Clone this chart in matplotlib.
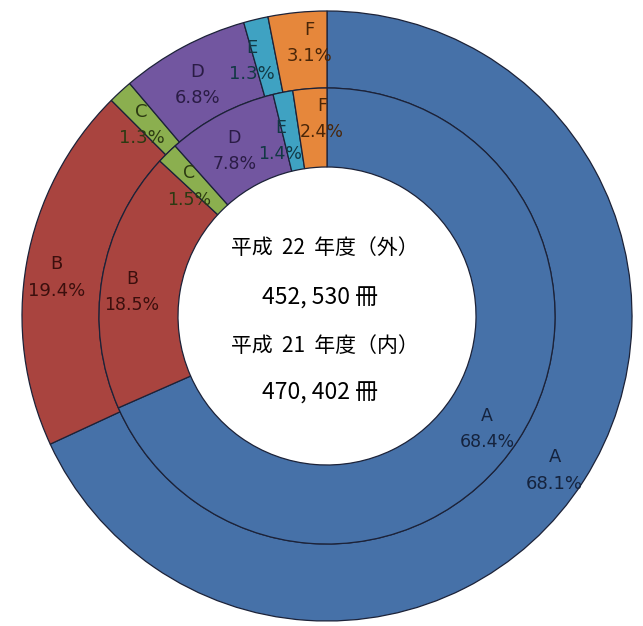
import numpy as np
import matplotlib
matplotlib.use('Agg')
import matplotlib.pyplot as plt

# 外側: 平成22年度, 内側: 平成21年度
categories = ['A', 'B', 'C', 'D', 'E', 'F']
outer_pct = [68.1, 19.4, 1.3, 6.8, 1.3, 3.1]
inner_pct = [68.4, 18.5, 1.5, 7.8, 1.4, 2.4]

colors = ['#4671A8', '#A9443F', '#8BAF4F', '#7256A0', '#3FA2C2', '#E6873B']
text_colors = ['#15233d', '#3b0f0d', '#2c3a12', '#2a1c45', '#123844', '#4a2608']

center_lines = ['平成  22  年度（外）', '452, 530 冊', '平成  21  年度（内）', '470, 402 冊']

# ラベルの微調整 (px, 画像座標: 右+, 下+)
outer_nudge = [(3, 11), (-8, 8), (-5, 5), (-4, 4), (-13, 4), (8, -8)]
inner_nudge = [(2, 10), (-9, 7), (-6, 5), (-5, 2), (-10, 10), (9, -9)]

W, H = 643, 626
cx, cy = 327, H - 316
r_out, r_mid, r_in = 305, 228, 149

fig = plt.figure(figsize=(W / 100, H / 100), dpi=100)
ax = fig.add_axes([0, 0, 1, 1])

edge = dict(edgecolor='#1c2238', linewidth=0.9)

w_out, _ = ax.pie(outer_pct, radius=r_out, center=(cx, cy), colors=colors,
                  startangle=90, counterclock=False,
                  wedgeprops=dict(width=r_out - r_mid, **edge))
w_in, _ = ax.pie(inner_pct, radius=r_mid, center=(cx, cy), colors=colors,
                 startangle=90, counterclock=False,
                 wedgeprops=dict(width=r_mid - r_in, **edge))
ax.set_xlim(0, W)
ax.set_ylim(0, H)
ax.set_aspect('equal')
ax.axis('off')


def put_labels(wedges, pcts, r_text, nudges, size=13):
    for w, cat, p, tc, (dx, dy) in zip(wedges, categories, pcts, text_colors, nudges):
        ang = np.deg2rad((w.theta1 + w.theta2) / 2)
        x = cx + r_text * np.cos(ang) + dx
        y = cy + r_text * np.sin(ang) - dy
        ax.text(x, y, f'{cat}\n{p:.1f}%', ha='center', va='center',
                fontsize=size, color=tc, linespacing=1.6, family='DejaVu Sans')


put_labels(w_out, outer_pct, (r_out + r_mid) / 2, outer_nudge)
put_labels(w_in, inner_pct, (r_mid + r_in) / 2, inner_nudge, size=12.5)

jp = ['Noto Sans CJK JP', 'DejaVu Sans']
ax.text(325, H - 248, center_lines[0], ha='center', va='center', fontsize=15, family=jp)
ax.text(320, H - 298, center_lines[1], ha='center', va='center', fontsize=16.5, family=jp)
ax.text(325, H - 346, center_lines[2], ha='center', va='center', fontsize=15, family=jp)
ax.text(320, H - 393, center_lines[3], ha='center', va='center', fontsize=16.5, family=jp)

fig.savefig('out.png', dpi=100, facecolor='white')
plt.close(fig)
